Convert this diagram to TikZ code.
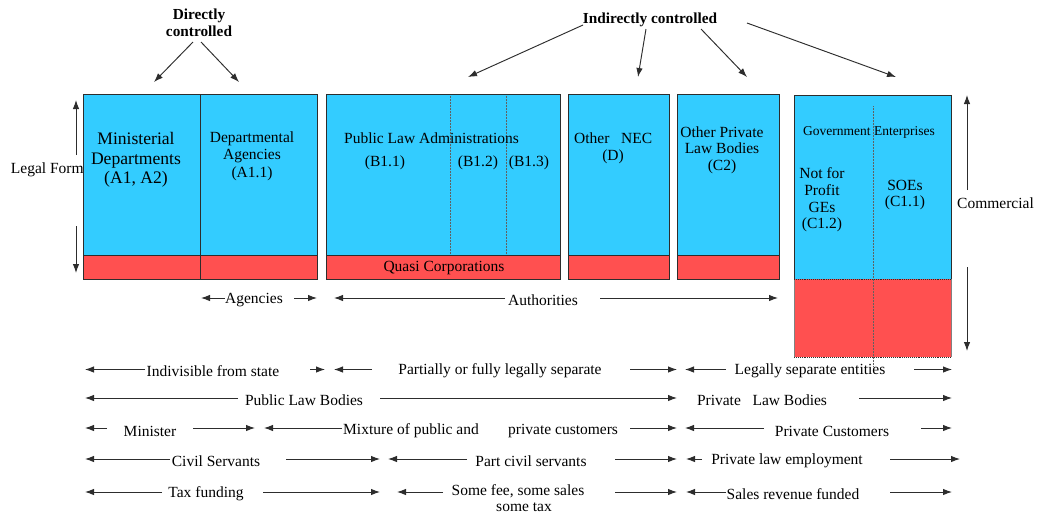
\documentclass[tikz,border=0pt]{standalone}
\usepackage{fontspec}
\setmainfont{Liberation Serif}
\usetikzlibrary{arrows.meta}
\definecolor{boxblue}{RGB}{51,204,255}
\definecolor{boxred}{RGB}{255,80,80}
\definecolor{edge}{RGB}{45,45,45}
\begin{document}
\begin{tikzpicture}[x=1pt,y=-1pt,
  lbl/.style={inner sep=0pt, font=\fontsize{15.5}{17.5}\selectfont, align=center},
  big/.style={inner sep=0pt, font=\fontsize{17.6}{19.5}\selectfont, align=center},
  small/.style={inner sep=0pt, font=\fontsize{13.5}{15}\selectfont},
  head/.style={inner sep=0pt, font=\bfseries\fontsize{15.3}{17}\selectfont, align=center},
  arr/.style={-{Latex[length=9pt,width=6.5pt]}, line width=0.95pt, draw=edge},
  frame/.style={draw=edge, line width=0.9pt},
  split/.style={draw=edge!75, line width=0.5pt, densely dotted},
]
\useasboundingbox (0,0) rectangle (1038,515);

% ---- control labels and pointers ----
\node[head] (dc) at (199,22.5) {Directly\\controlled};
\node[head] (ic) at (650,20) {Indirectly controlled};
\coordinate (dcA) at (154,82);
\coordinate (dcB) at (239,82);
\coordinate (icB) at (468,77);
\coordinate (icD) at (638,77);
\coordinate (icC) at (747,77);
\coordinate (icG) at (896,77);
\draw[arr] (193,42) -- (dcA);
\draw[arr] (201,42) -- (dcB);
\draw[arr] (583,25) -- (icB);
\draw[arr] (646,29) -- (icD);
\draw[arr] (701,29) -- (icC);
\draw[arr] (747,23) -- (icG);

% ---- legal form scale ----
\node[lbl, anchor=west] (legal) at (10.7,170) {Legal Form};
\draw[arr] (76,155) -- (76,100);
\draw[arr] (76,226) -- (76,273);

% ---- A: ministerial departments and agencies ----
\fill[boxblue] (83,94) rectangle (317,255);
\fill[boxred] (83,255) rectangle (317,279);
\draw[frame] (83,94) rectangle (317,279);
\draw[frame] (83,255) -- (317,255);
\draw[frame] (200,94) -- (200,279);
\node[big] (md) at (136,160) {Ministerial\\Departments\\(A1, A2)};
\node[lbl] (da) at (252,156) {Departmental\\Agencies\\(A1.1)};

% ---- B: public law administrations ----
\fill[boxblue] (326,94) rectangle (560,255);
\fill[boxred] (326,255) rectangle (560,279);
\draw[split] (450,94) -- (450,255);
\draw[split] (506,94) -- (506,255);
\draw[frame] (326,94) rectangle (560,279);
\draw[frame] (326,255) -- (560,255);
\node[lbl, anchor=west] (pla) at (344,138) {Public Law Administrations};
\node[lbl] (b11) at (385,163) {(B1.1)};
\node[lbl] (b12) at (478,163) {(B1.2)};
\node[lbl] (b13) at (529,163) {(B1.3)};
\node[lbl] (quasi) at (444,268) {Quasi Corporations};

% ---- D: other NEC ----
\fill[boxblue] (568,94) rectangle (669,255);
\fill[boxred] (568,255) rectangle (669,279);
\draw[frame] (568,94) rectangle (669,279);
\draw[frame] (568,255) -- (669,255);
\node[lbl, anchor=west] (nec) at (574,138) {Other\ \ \ NEC};
\node[lbl] (d) at (613,157) {(D)};

% ---- C2: other private law bodies ----
\fill[boxblue] (677,94) rectangle (779,255);
\fill[boxred] (677,255) rectangle (779,279);
\draw[frame] (677,94) rectangle (779,279);
\draw[frame] (677,255) -- (779,255);
\node[lbl, font=\fontsize{15.5}{16.5}\selectfont] (c2) at (722,150) {Other Private\\Law Bodies\\(C2)};

% ---- C1: government enterprises ----
\fill[boxblue] (794,95) rectangle (951,279);
\fill[boxred] (794,279) rectangle (951,357);
\draw[split] (873,106) -- (873,366);
\draw[frame] (794,279) -- (794,95) -- (951,95) -- (951,279);
\draw[draw=edge!60, line width=0.8pt] (794,279) -- (794,357) (951,279) -- (951,357);
\draw[draw=edge, line width=0.9pt, densely dotted] (794,279) -- (951,279) (794,357) -- (951,357);
\node[small] (ge) at (869,132) {Government Enterprises};
\node[lbl, font=\fontsize{15.5}{16.7}\selectfont] (c12) at (822,200) {Not for\\Profit\\GEs\\(C1.2)};
\node[lbl, font=\fontsize{15.5}{16}\selectfont] (c11) at (905,195) {SOEs\\(C1.1)};

% ---- commercial scale ----
\node[lbl, anchor=west] (comm) at (957,203) {Commercial};
\draw[arr] (967,190) -- (967,95);
\draw[arr] (967,267) -- (967,351);

% ---- agencies / authorities ----
\node[lbl] (ag) at (254,300) {Agencies};
\draw[arr] (225,298) -- (201,298);
\draw[arr] (294,298) -- (317,298);
\node[lbl] (auth) at (543,300) {Authorities};
\draw[arr] (505,298) -- (334,298);
\draw[arr] (600,298) -- (778,298);

% ---- legal separation ----
\node[lbl] (indiv) at (213,371) {Indivisible from state};
\draw[arr] (145,369.5) -- (85,369.5);
\draw[arr] (310,369.5) -- (325,369.5);
\node[lbl] (part) at (500,371) {Partially or fully legally separate};
\draw[arr] (372,369.5) -- (334,369.5);
\draw[arr] (630,369.5) -- (677,369.5);
\node[lbl] (lse) at (810,371) {Legally separate entities};
\draw[arr] (726,369.5) -- (685,369.5);
\draw[arr] (914,369.5) -- (952,369.5);

% ---- law bodies ----
\node[lbl] (plb) at (304,400) {Public Law Bodies};
\draw[arr] (238,398) -- (85,398);
\draw[arr] (380,398) -- (677,398);
\node[lbl] (prlb) at (762,400) {Private\ \ \ Law Bodies};
\draw[arr] (859,398) -- (952,398);

% ---- customers ----
\node[lbl] (min) at (150,431) {Minister};
\draw[arr] (107,428) -- (85,428);
\draw[arr] (193,428) -- (255,428);
\node[lbl, anchor=west] (mix) at (343,431) {Mixture of public and};
\node[lbl, anchor=west] (pc) at (508,431) {private customers};
\draw[arr] (342,428) -- (264,428);
\draw[arr] (630,428) -- (677,428);
\node[lbl] (prc) at (832,431) {Private Customers};
\draw[arr] (764,428) -- (685,428);
\draw[arr] (921,428) -- (952,428);

% ---- employment ----
\node[lbl] (cs) at (216,461) {Civil Servants};
\draw[arr] (170,459) -- (85,459);
\draw[arr] (286,459) -- (380,459);
\node[lbl] (pcs) at (531,461) {Part civil servants};
\draw[arr] (467,459) -- (388,459);
\draw[arr] (615,459) -- (677,459);
\node[lbl] (ple) at (787,461) {Private law employment};
\draw[arr] (702,459) -- (686,459);
\draw[arr] (890,459) -- (960,459);

% ---- funding ----
\node[lbl] (tax) at (206,494) {Tax funding};
\draw[arr] (162,492) -- (85,492);
\draw[arr] (263,492) -- (380,492);
\node[lbl] (fee) at (518,491) {Some fee, some sales};
\node[lbl] (stax) at (524,507) {some tax};
\draw[arr] (443,492) -- (397,492);
\draw[arr] (615,492) -- (677,492);
\node[lbl] (srf) at (793,494) {Sales revenue funded};
\draw[arr] (726,492) -- (686,492);
\draw[arr] (890,492) -- (952,492);
\end{tikzpicture}
\end{document}
